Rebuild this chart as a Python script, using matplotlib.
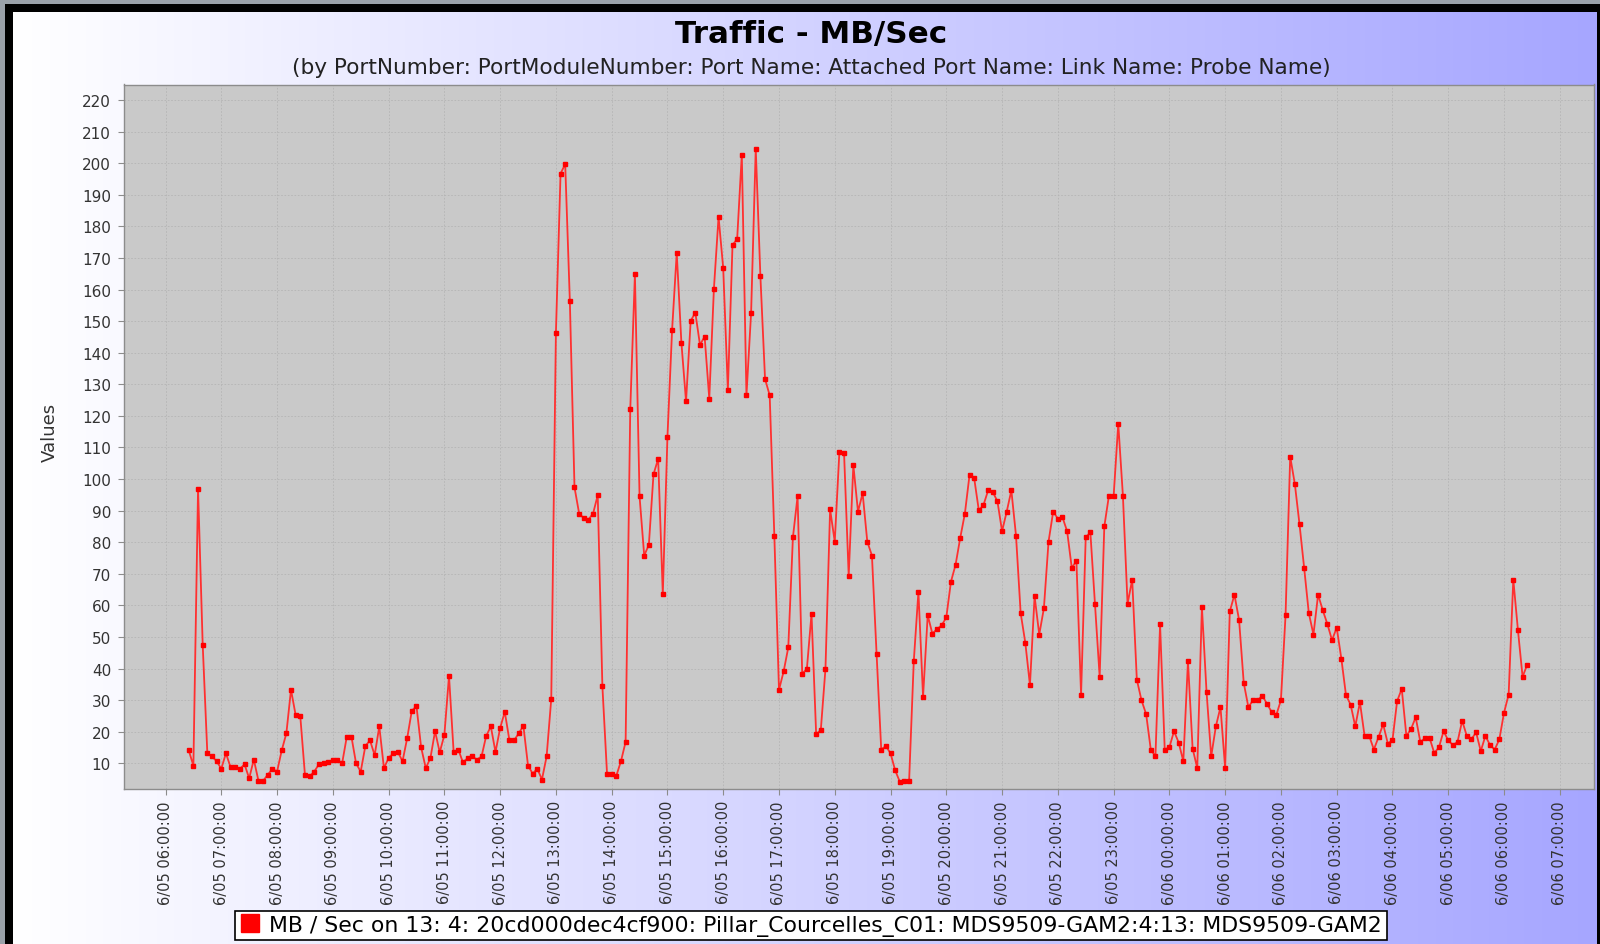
import numpy as np
import pandas as pd
import matplotlib
matplotlib.use("Agg")
import matplotlib.pyplot as plt
import matplotlib.dates as mdates
from matplotlib.lines import Line2D
from matplotlib.patches import Rectangle
from matplotlib.ticker import FuncFormatter

# ---------------- data ----------------
title = "Traffic - MB/Sec"
subtitle = "(by PortNumber: PortModuleNumber: Port Name: Attached Port Name: Link Name: Probe Name)"
series_label = "MB / Sec on 13: 4: 20cd000dec4cf900: Pillar_Courcelles_C01: MDS9509-GAM2:4:13: MDS9509-GAM2"
y_label = "Values"
start_time = "2010-06-05 06:25"
sample_interval = "5min"
x_range = ("2010-06-05 05:14:48", "2010-06-06 07:36:50")
y_range = (1.9, 224.9)
y_ticks = list(range(10, 230, 10))

mb_per_sec = [
    # 06:25 - 09:20
    14.1, 9.3, 96.9, 47.6, 13.2, 12.2, 10.7, 8.3, 13.2, 8.8, 8.8, 8.3, 9.7, 5.3, 11.2, 4.5, 4.5, 6.4,
    8.3, 7.4, 14.1, 19.5, 33.3, 25.3, 24.9, 6.4, 5.9, 7.4, 9.7, 10.0, 10.3, 11.2, 11.2, 10.0, 18.4, 18.5,
    # 09:25 - 12:30
    10.0, 7.4, 15.5, 17.3, 12.6, 21.7, 8.5, 11.7, 13.2, 13.6, 10.7, 18.0, 26.7, 28.1, 15.1, 8.5, 11.7, 20.2,
    13.5, 19.0, 37.7, 13.5, 14.4, 10.3, 11.7, 12.2, 11.2, 12.2, 18.7, 21.7, 13.6, 21.2, 26.3, 17.3, 17.3,
    19.5, 21.9, 9.3,
    # 12:35 - 15:40
    6.8, 8.3, 4.9, 12.2, 30.4, 146.2, 196.7, 199.7, 156.4, 97.4, 89.1, 87.6, 87.2, 89.1, 94.9, 34.5, 6.8, 6.8,
    6.1, 10.7, 16.8, 122.1, 164.8, 94.5, 75.8, 79.2, 101.5, 106.4, 63.6, 113.4, 147.2, 171.6, 143.2, 124.6,
    150.1, 152.7, 142.5, 145.1,
    # 15:45 - 18:50
    125.5, 160.3, 183.0, 166.8, 128.2, 174.1, 176.0, 202.7, 126.5, 152.6, 204.6, 164.2, 131.7, 126.5, 82.1,
    33.3, 39.1, 46.7, 81.6, 94.5, 38.4, 39.9, 57.3, 19.2, 20.6, 39.9, 90.4, 80.2, 108.7, 108.3, 69.4, 104.4,
    89.7, 95.5, 80.2, 75.8, 44.7, 14.4,
    # 18:55 - 21:55
    15.5, 13.2, 7.8, 4.2, 4.5, 4.5, 42.3, 64.3, 31.1, 56.9, 51.1, 52.5, 53.7, 56.2, 67.5, 72.9, 81.4, 89.1,
    101.3, 100.3, 90.1, 91.8, 96.4, 95.9, 93.0, 83.5, 89.7, 96.4, 82.1, 57.6, 48.2, 34.8, 62.9, 50.8, 59.1,
    80.2, 89.7,
    # 22:00 - 01:05
    87.5, 87.9, 83.5, 71.9, 74.1, 31.8, 81.6, 83.1, 60.5, 37.4, 85.0, 94.8, 94.5, 117.5, 94.8, 60.5, 68.2,
    36.5, 30.0, 25.6, 14.4, 12.2, 54.0, 14.4, 15.1, 20.2, 16.6, 10.7, 42.3, 14.7, 8.5, 59.5, 32.6, 12.2,
    21.7, 27.8, 8.5, 58.1,
    # 01:10 - 04:15
    63.4, 55.4, 35.5, 27.8, 30.0, 30.0, 31.4, 28.9, 26.3, 25.3, 30.0, 57.0, 107.1, 98.4, 85.7, 71.9, 57.6,
    50.8, 63.4, 58.5, 54.1, 49.0, 53.0, 43.2, 31.6, 28.6, 21.7, 29.4, 18.7, 18.7, 14.4, 18.3, 22.4, 16.3,
    17.3, 29.7, 33.6, 18.7,
    # 04:20 - 06:25
    20.9, 24.6, 16.8, 18.0, 18.0, 13.3, 15.1, 20.2, 17.3, 15.8, 16.8, 23.5, 18.7, 17.7, 19.8, 13.9, 18.7,
    15.8, 14.4, 17.6, 26.0, 31.8, 68.2, 52.2, 37.4, 41.3,
]

times = pd.date_range(start=start_time, periods=len(mb_per_sec), freq=sample_interval)

# ---------------- figure ----------------
W, H = 1600, 945
fig = plt.figure(figsize=(W / 100, H / 100), dpi=100)
fig.patch.set_facecolor("#9aa1a9")

# background: frame + horizontal gradient panel
bg = fig.add_axes([0, 0, 1, 1], zorder=-10)
bg.axis("off")
bg.add_patch(Rectangle((5, 5), W, H, facecolor="black", edgecolor="none", zorder=0))
grad = np.linspace(0, 1, 512)[None, :, None]
c0 = np.array([1.0, 1.0, 1.0])
c1 = np.array([166, 166, 255]) / 255.0
img = c0 + (c1 - c0) * grad
img = np.repeat(img, 2, axis=0)
bg.imshow(img, extent=(13, 1597, H, 13), aspect="auto", interpolation="bilinear", zorder=2)
bg.set_xlim(0, W)
bg.set_ylim(H, 0)

# main plot
left, right, top, bottom = 123.5, 1594, 85.5, 790
ax = fig.add_axes([left / W, 1 - bottom / H, (right - left) / W, (bottom - top) / H])
ax.set_facecolor("#c9c9c9")

ax.plot(times, mb_per_sec, color="#ff3030", lw=1.3, marker="s", markersize=3.2,
        markerfacecolor="#ff0000", markeredgecolor="#ff0000", zorder=3)

ax.set_xlim(pd.Timestamp(x_range[0]), pd.Timestamp(x_range[1]))
ax.set_ylim(*y_range)
ax.set_yticks(y_ticks)
ax.xaxis.set_major_locator(mdates.HourLocator(interval=1))


def fmt_date(x, pos):
    d = mdates.num2date(x)
    return f"{d.month}/{d.day:02d} {d:%H:%M:%S}"


ax.xaxis.set_major_formatter(FuncFormatter(fmt_date))

ax.grid(True, color="#b4b4b4", lw=0.6, linestyle=(0, (2, 2)), zorder=1)
ax.set_axisbelow(True)
for s in ax.spines.values():
    s.set_color("#8c8c8c")
    s.set_linewidth(1.0)

ax.tick_params(axis="y", labelsize=11, colors="#8c8c8c", labelcolor="#333333", length=4, pad=5)
ax.tick_params(axis="x", labelsize=10.5, colors="#8c8c8c", labelcolor="#333333", length=4, pad=4,
               labelrotation=90)

fig.text(50 / W, 1 - 432 / H, y_label, rotation=90, ha="center", va="center", fontsize=13, color="#333333")

fig.text(811 / W, 1 - 35 / H, title, ha="center", va="center", fontsize=22.3, fontweight="bold", color="black")
fig.text(811 / W, 1 - 67.5 / H, subtitle, ha="center", va="center", fontsize=15.6, color="#222222")

handle = Line2D([], [], color="red", marker="s", linestyle="none", markersize=13)
leg = fig.legend([handle], [series_label], loc="center", bbox_to_anchor=(811 / W, 1 - 926.5 / H),
                 frameon=True, fancybox=False, edgecolor="black", framealpha=1, fontsize=15.8,
                 handlelength=0.9, handletextpad=0.45, borderpad=0.2, borderaxespad=0)
leg.get_frame().set_linewidth(1.2)

fig.savefig("out.png", dpi=100)
